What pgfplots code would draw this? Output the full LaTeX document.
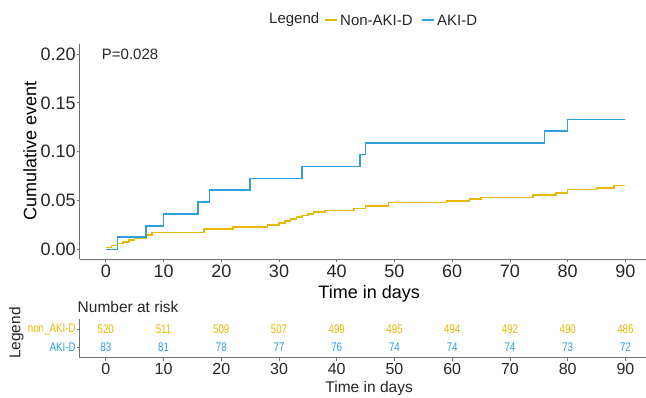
\documentclass[border=0pt]{standalone}
\usepackage{fontspec}
\setmainfont{Liberation Sans}
\newfontfamily\narrowfont[FakeStretch=0.78]{Liberation Sans}
\usepackage{pgfplots}
\pgfplotsset{compat=1.18}
\definecolor{nonaki}{HTML}{E7B800}
\definecolor{aki}{HTML}{2E9FDF}
\definecolor{axgray}{HTML}{707070}
\definecolor{txt}{HTML}{262626}

\pgfplotstableread{
x y
0 0
2 0.0124
7 0.0241
10 0.0362
16 0.0485
18 0.0607
25 0.0727
34 0.0848
44 0.0970
45 0.1090
76 0.1212
80 0.1330
90 0.1330
}\akidata

\pgfplotstableread{
x y
0 0.0019
1 0.0038
2 0.0058
3 0.0077
4 0.0096
5 0.0115
7 0.0146
8 0.0173
17 0.0207
22 0.0228
28 0.0250
30 0.0270
31 0.0290
32 0.0310
33 0.0330
34 0.0347
35 0.0364
36 0.0380
38 0.0398
43 0.0420
45 0.0444
49 0.0480
59 0.0495
63 0.0513
65 0.0532
74 0.0554
78 0.0575
80 0.0612
85 0.0630
88 0.0653
90 0.0653
}\nonakidata

\pgfplotstableread{
x y n
0 2 520
10 2 511
20 2 509
30 2 507
40 2 499
50 2 495
60 2 494
70 2 492
80 2 490
90 2 486
}\risknon

\pgfplotstableread{
x y n
0 1 83
10 1 81
20 1 78
30 1 77
40 1 76
50 1 74
60 1 74
70 1 74
80 1 73
90 1 72
}\riskaki

\begin{document}
\begin{tikzpicture}[x=1pt,y=1pt]
\useasboundingbox (0,0) rectangle (646,397);
\begin{axis}[
  at={(79.8pt,137.9pt)}, anchor=south west,
  scale only axis, width=566.2pt, height=214.8pt,
  xmin=-4.5, xmax=93.56, ymin=-0.01, ymax=0.21,
  axis lines=left,
  axis line style={-, draw=axgray, line width=0.9pt},
  tick align=outside, major tick length=3pt,
  tick style={draw=axgray, line width=0.8pt},
  xtick={0,10,20,30,40,50,60,70,80,90},
  ytick={0,0.05,0.1,0.15,0.2},
  scaled y ticks=false,
  yticklabel style={/pgf/number format/fixed, /pgf/number format/fixed zerofill, /pgf/number format/precision=2, inner sep=1pt},
  xticklabel style={inner sep=3pt},
  /pgf/number format/assume math mode=true,
  ticklabel style={font=\fontsize{18}{21}\selectfont, text=txt},
  xlabel={Time in days}, ylabel={Cumulative event},
  every axis x label/.style={at={(axis description cs:0.511,-0.16)}, anchor=center, font=\fontsize{18}{21}\selectfont, text=black},
  every axis y label/.style={at={(axis description cs:-0.088,0.503)}, anchor=center, rotate=90, font=\fontsize{18}{21}\selectfont, text=black},
]
\addplot[const plot, nonaki, line width=1.5pt] table[x=x,y=y] {\nonakidata};
\addplot[const plot, aki, line width=1.5pt] table[x=x,y=y] {\akidata};
\node[anchor=west, inner sep=0pt, font=\fontsize{15}{18}\selectfont, text=txt] at (axis cs:-0.7,0.2) {P=0.028};
\end{axis}
% legend
\node[anchor=west, inner sep=0pt, font=\fontsize{15}{18}\selectfont, text=txt] at (269,377) {Legend};
\draw[nonaki, line width=1.3pt] (325,377) -- (337,377);
\node[anchor=west, inner sep=0pt, font=\fontsize{15}{18}\selectfont, text=txt] at (340,377) {Non-AKI-D};
\draw[aki, line width=1.3pt] (422,377) -- (434,377);
\node[anchor=west, inner sep=0pt, font=\fontsize{15}{18}\selectfont, text=txt] at (437,377) {AKI-D};

\begin{axis}[
  at={(79.8pt,39.3pt)}, anchor=south west,
  scale only axis, width=566.2pt, height=38.7pt,
  xmin=-4.5, xmax=93.56, ymin=0.4, ymax=2.6,
  axis lines=left,
  axis line style={-, draw=axgray, line width=0.9pt},
  tick align=outside, major tick length=3pt,
  tick style={draw=axgray, line width=0.8pt},
  xtick={0,10,20,30,40,50,60,70,80,90},
  ytick={1,2},
  yticklabels={\textcolor{aki}{AKI-D},\textcolor{nonaki}{non\_AKI-D}},
  yticklabel style={font=\narrowfont\fontsize{12.5}{14}\selectfont, inner sep=1pt},
  xticklabel style={font=\fontsize{16}{19}\selectfont, text=txt, inner sep=2.5pt},
  /pgf/number format/assume math mode=true,
  xlabel={Time in days}, ylabel={Legend},
  every axis x label/.style={at={(axis description cs:0.511,-0.80)}, anchor=center, font=\fontsize{15.5}{18}\selectfont, text=txt},
  every axis y label/.style={at={(axis description cs:-0.112,0.638)}, anchor=center, rotate=90, font=\fontsize{15.5}{18}\selectfont, text=txt},
  clip=false,
]
\addplot[draw=none, mark=none, only marks, nodes near coords, point meta=explicit symbolic,
   every node near coord/.append style={anchor=center, inner sep=0pt, font=\narrowfont\fontsize{12.5}{14}\selectfont, text=nonaki}]
   table[x=x,y=y,meta=n] {\risknon};
\addplot[draw=none, mark=none, only marks, nodes near coords, point meta=explicit symbolic,
   every node near coord/.append style={anchor=center, inner sep=0pt, font=\narrowfont\fontsize{12.5}{14}\selectfont, text=aki}]
   table[x=x,y=y,meta=n] {\riskaki};
\end{axis}
\node[anchor=west, inner sep=0pt, font=\fontsize{15.5}{18}\selectfont, text=txt] at (77.5,90.3) {Number at risk};
\end{tikzpicture}
\end{document}
